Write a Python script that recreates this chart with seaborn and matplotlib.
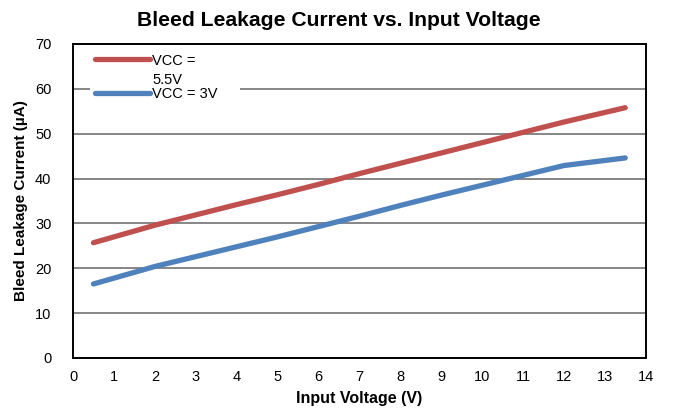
import pandas as pd
import matplotlib.pyplot as plt
import seaborn as sns

# values
input_voltage = [0.5, 2, 3, 4, 5, 6, 7, 8, 9, 10, 11, 12, 13.5]
leak_vcc_55 = [25.7, 29.6, 31.9, 34.2, 36.4, 38.7, 41.1, 43.4, 45.7, 48.0, 50.3, 52.6, 55.8]
leak_vcc_3 = [16.5, 20.4, 22.6, 24.8, 27.0, 29.3, 31.6, 34.0, 36.3, 38.5, 40.7, 42.9, 44.6]
series_names = ['VCC =\n5.5V', 'VCC = 3V']
series_colors = ['#C0504D', '#4F81BD']

df = pd.concat([
    pd.DataFrame({'Input Voltage': input_voltage, 'Current': leak_vcc_55, 'Series': series_names[0]}),
    pd.DataFrame({'Input Voltage': input_voltage, 'Current': leak_vcc_3, 'Series': series_names[1]}),
])

sns.set_style('white')
plt.rcParams['font.family'] = ['Liberation Sans', 'DejaVu Sans']
plt.rcParams['text.color'] = 'black'
plt.rcParams['axes.labelcolor'] = 'black'

fig, ax = plt.subplots(figsize=(6.73, 4.17), dpi=100)
fig.subplots_adjust(left=0.1085, right=0.9594, bottom=0.1415, top=0.8945)

sns.lineplot(data=df, x='Input Voltage', y='Current', hue='Series', hue_order=series_names,
             palette=series_colors, linewidth=3.8, solid_capstyle='round', ax=ax)

ax.set_xlim(0, 14)
ax.set_ylim(0, 70)
ax.set_xticks(range(0, 15))
ax.set_yticks(range(0, 71, 10))
ax.yaxis.grid(True, color='#868686', linewidth=1.4)
ax.set_axisbelow(True)
for s in ax.spines.values():
    s.set_visible(True)
    s.set_color('black')
    s.set_linewidth(1.4)
ax.tick_params(axis='both', direction='in', length=4, width=1.2, color='black',
               labelsize=10.5, labelcolor='black')
ax.tick_params(axis='x', pad=9)
ax.tick_params(axis='y', pad=15.5)

ax.set_title('Bleed Leakage Current vs. Input Voltage', fontsize=15.2, fontweight='bold',
             color='black', x=0.4645, pad=13)
ax.set_xlabel('Input Voltage (V)', fontsize=11.5, fontweight='bold', labelpad=5)
ax.set_ylabel('Bleed Leakage Current (µA)', fontsize=11, fontweight='bold', labelpad=5)

leg = ax.legend(loc='upper left', bbox_to_anchor=(0.0297, 0.883, 0.262, 0.1), mode='expand',
                borderaxespad=0, fontsize=10.5, handlelength=3.75, handletextpad=0.15,
                labelspacing=0.0, frameon=True, fancybox=False, borderpad=0.35)
leg.get_frame().set_facecolor('white')
leg.get_frame().set_edgecolor('none')
leg.get_frame().set_alpha(1)
leg.get_texts()[0].set_linespacing(1.45)
for t in leg.get_texts():
    t.set_color('black')
for i, line in enumerate(leg.get_lines()):
    line.set_linewidth(3.8)
    line.set_solid_capstyle('round')
    if i == 0:
        # put the red handle level with the first line of its two-line label
        line.set_ydata(line.get_ydata() + 8.6)

fig.savefig('out.png', dpi=100)
